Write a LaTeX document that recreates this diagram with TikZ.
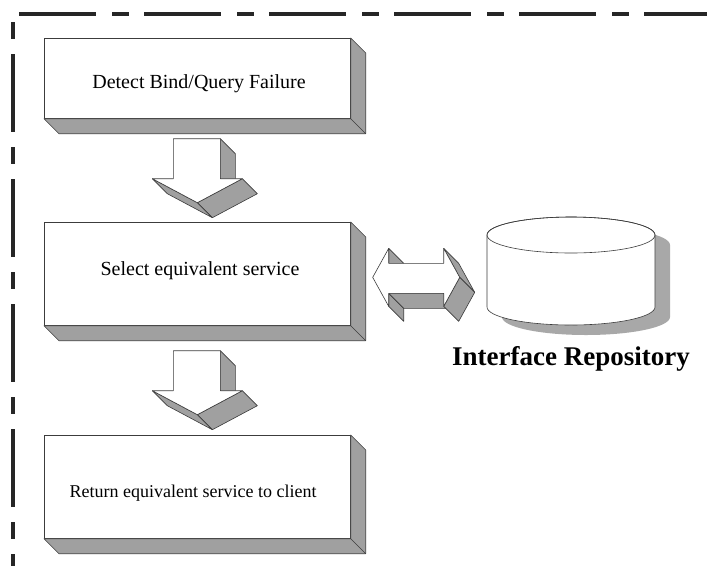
\documentclass[tikz,border=0pt]{standalone}
\usepackage{fontspec}
\setmainfont{Liberation Serif}
\usetikzlibrary{calc}

\definecolor{facegray}{RGB}{160,160,160}
\definecolor{shadowgray}{RGB}{168,168,168}
\definecolor{edge}{RGB}{60,60,60}

\tikzset{
  frame/.style={line width=3.3pt, draw=black!85},
  facebox/.style={draw=edge, line width=0.7pt, fill=white, inner sep=0pt,
    anchor=north west},
  side/.style={draw=edge, line width=0.6pt, fill=facegray, line join=round},
  front/.style={draw=edge, line width=0.6pt, fill=white, line join=round},
  boxtext/.style={anchor=base, font=\fontsize{20}{24}\selectfont},
  downarrow/.pic={
    \path[side] (47,0) -- (62,15) -- (62,55) -- (47,40) -- cycle;
    \path[side] (69,40) -- (84,55) -- (39,79) -- (24,64) -- cycle;
    \path[side] (-21,40) -- (24,64) -- (39,79) -- (-6,55) -- cycle;
    \path[front] (0,0) -- (47,0) -- (47,40) -- (69,40) -- (24,64)
      -- (-21,40) -- (0,40) -- cycle;
  },
  twowayarrow/.pic={
    \path[side] (16,-29) -- (31,-14) -- (31,1) -- (16,-14) -- cycle;
    \path[side] (16,16) -- (16,29) -- (31,44) -- (31,31) -- cycle;
    \path[side] (16,16) -- (71,16) -- (86,31) -- (31,31) -- cycle;
    \path[side] (71,-29) -- (87,0) -- (102,15) -- (86,-14) -- cycle;
    \path[side] (87,0) -- (71,29) -- (86,44) -- (102,15) -- cycle;
    \path[front] (0,0) -- (16,-29) -- (16,-14) -- (71,-14) -- (71,-29)
      -- (87,0) -- (71,29) -- (71,16) -- (16,16) -- (16,29) -- cycle;
  }
}

% bottom and right faces of an extruded box, depth 15
\newcommand{\boxdepth}[1]{%
  \path[side] (#1.south west) -- ($(#1.south west)+(15,15)$)
    -- ($(#1.south east)+(15,15)$) -- ($(#1.north east)+(15,15)$)
    -- (#1.north east) -- (#1.south east) -- cycle;
  \draw[edge, line width=0.6pt] (#1.south east) -- ($(#1.south east)+(15,15)$);
}

\begin{document}
\begin{tikzpicture}[x=1pt, y=-1pt]
\useasboundingbox (0,0) rectangle (707,566);
\fill[white] (0,0) rectangle (707,566);

% dashed enclosure
\draw[frame, dash pattern=on 77pt off 16pt on 17pt off 15pt] (19,14) -- (707,14);
\draw[frame, dash pattern=on 17pt off 15pt on 78pt off 15pt] (13,22) -- (13,566);

% process boxes
\node[facebox, minimum width=306pt, minimum height=80pt] (detect) at (44,38) {};
\boxdepth{detect}
\node[boxtext] (detecttxt) at (199,88) {Detect Bind/Query Failure};

\node[facebox, minimum width=306pt, minimum height=103pt] (select) at (44,222) {};
\boxdepth{select}
\node[boxtext] (selecttxt) at (200,275) {Select equivalent service};

\node[facebox, minimum width=306pt, minimum height=103pt] (return) at (44,435) {};
\boxdepth{return}
\node[boxtext, font=\fontsize{18}{22}\selectfont] (returntxt) at (193,497)
  {Return equivalent service to client};

% block arrows between the steps
\pic (stepA) at ($(detect.south)+(-24,20)$) {downarrow};
\pic (stepB) at ($(select.south)+(-24,25)$) {downarrow};

% interface repository (cylinder with drop shadow)
\coordinate (repo) at (571,235);
\fill[shadowgray, shift={(15,10)}] (487,235)
  arc[start angle=180, end angle=360, x radius=84, y radius=18]
  -- (655,307) arc[start angle=0, end angle=180, x radius=84, y radius=18]
  -- cycle;
\path[front] (487,235)
  arc[start angle=180, end angle=360, x radius=84, y radius=18]
  -- (655,307) arc[start angle=0, end angle=180, x radius=84, y radius=18]
  -- cycle;
\draw[edge, line width=0.6pt] (repo) ellipse[x radius=84, y radius=18];
\node[anchor=base, font=\fontsize{27}{32}\selectfont\bfseries] (repolabel)
  at (571,365) {Interface Repository};

% two-way arrow between selection step and repository
\pic (lookup) at ($(select.east)+(22,3.5)$) {twowayarrow};

\end{tikzpicture}
\end{document}
